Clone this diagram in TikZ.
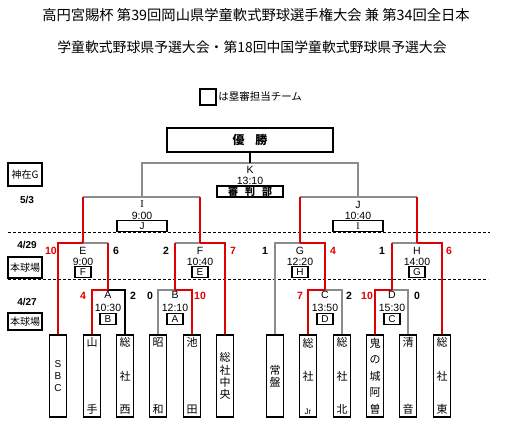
\documentclass[tikz,border=0pt]{standalone}
\usepackage{fontspec}
\setmainfont{Liberation Sans}
\newfontfamily\jp{Noto Sans CJK JP}
\newfontfamily\serifI{Liberation Serif}
\usetikzlibrary{positioning}
\definecolor{winred}{RGB}{225,0,0}
\definecolor{linegray}{RGB}{140,140,140}
\tikzset{
    winner/.style = {draw=winred, line width=1.8pt, line join=miter},
    loser/.style = {draw=linegray, line width=1.5pt, line join=miter},
    team/.style = {rectangle, draw=black, line width=1.4pt, minimum width=17pt, minimum height=82pt, inner sep=0pt, align=center},
    tname/.style = {font=\jp\fontsize{11}{#1}\selectfont},
    umpire/.style = {rectangle, draw=black, line width=1.1pt, minimum width=16pt, minimum height=11pt, inner sep=0pt, font=\fontsize{10}{10}\selectfont},
    venue/.style = {rectangle, draw=black, line width=1.1pt, minimum width=34pt, inner sep=0pt, font=\jp\fontsize{10}{10}\selectfont},
    mlabel/.style = {inner sep=0pt, font=\fontsize{10.5}{10.5}\selectfont},
    score/.style = {inner sep=0pt, font=\bfseries\fontsize{10.5}{10.5}\selectfont},
    rscore/.style = {score, text=winred},
    day/.style = {inner sep=0pt, font=\bfseries\fontsize{10}{10}\selectfont},
    dayline/.style = {black, line width=0.8pt, dash pattern=on 3pt off 2pt},
    title/.style = {inner sep=0pt, font=\jp\fontsize{#1}{#1}\selectfont}
}
\begin{document}
\begin{tikzpicture}[x=1pt,y=-1pt]
\useasboundingbox (0,0) rectangle (508,429);

% title and legend
\node[title=14.3] (ttl1) at (256,15) {高円宮賜杯 第39回岡山県学童軟式野球選手権大会 兼 第34回全日本};
\node[title=13.85] (ttl2) at (252,47) {学童軟式野球県予選大会・第18回中国学童軟式野球県予選大会};
\node[umpire, minimum size=16pt] (lgbox) at (208,97) {};
\node[inner sep=0pt, font=\jp\fontsize{10.5}{10.5}\selectfont, right=1.5pt of lgbox] (lgtxt) {は塁審担当チーム};

% days and grounds
\node[venue, minimum height=23pt] (vK) at (25,174.5) {神在G};
\node[day] (dK) at (27,200) {5/3};
\node[day] (dS) at (27,245) {4/29};
\node[venue, minimum height=21pt] (vS) at (25,267.5) {本球場};
\node[day] (dF) at (27,302) {4/27};
\node[venue, minimum height=17pt] (vF) at (25,321.5) {本球場};
\coordinate (r1a) at (8,232);
\coordinate (r1b) at (490,232);
\coordinate (r2a) at (8,279);
\coordinate (r2b) at (488,279);
\draw[dayline] (r1a) -- (r1b);
\draw[dayline] (r2a) -- (r2b);

% teams
\node[team, font=\fontsize{10}{12}\selectfont] (t1) at (58,376) {S\\B\\C};
\node[team, tname=67] (t2) at (92,376) {山\\手};
\node[team, tname=33.5] (t3) at (125,376) {総\\社\\西};
\node[team, tname=67] (t4) at (158,376) {昭\\和};
\node[team, tname=67] (t5) at (192,376) {池\\田};
\node[team, tname=12.3] (t6) at (225,376) {総\\社\\中\\央};
\node[team, tname=12] (t7) at (275,376) {常\\盤};
\node[team, tname=33.5] (t8) at (308,376) {総\\社\\{\rmfamily\fontsize{8}{33.5}\selectfont Jr}};
\node[team, tname=33.5] (t9) at (342,376) {総\\社\\北};
\node[team, tname=16.5] (t10) at (375,376) {鬼\\の\\城\\阿\\曽};
\node[team, tname=67] (t11) at (408,376) {清\\音};
\node[team, tname=33.5] (t12) at (442,376) {総\\社\\東};

% match points
\coordinate (mA) at (108,290);
\coordinate (mB) at (175,290);
\coordinate (mC) at (325,290);
\coordinate (mD) at (392,290);
\coordinate (mE) at (83,243);
\coordinate (mF) at (200,243);
\coordinate (mG) at (300,243);
\coordinate (mH) at (417,243);
\coordinate (mI) at (142,197);
\coordinate (mJ) at (358,197);
\coordinate (mK) at (250,163);
\node[rectangle, draw=black, line width=1.1pt, minimum width=166pt, minimum height=24pt, font=\jp\bfseries\fontsize{12}{12}\selectfont] (win) at (250,140) {優\hspace{11pt}勝};

% first round
\draw[loser, draw=black] (t3.north) |- (mA);
\draw[winner] (t2.north) |- (mA);
\draw[loser] (t4.north) |- (mB);
\draw[winner] (t5.north) |- (mB);
\draw[loser] (t9.north) |- (mC);
\draw[winner] (t8.north) |- (mC);
\draw[loser] (t11.north) |- (mD);
\draw[winner] (t10.north) |- (mD);

% second round
\draw[loser] (mA |- mE) -- (mE);
\draw[winner] (mA) -- (mA |- mE);
\draw[winner] (t1.north) |- (mE);
\draw[loser] (mB |- mF) -- (mF);
\draw[winner] (mB) -- (mB |- mF);
\draw[winner] (t6.north) |- (mF);
\draw[loser] (t7.north) |- (mG);
\draw[winner] (mC) |- (mG);
\draw[loser] (mD |- mH) -- (mH);
\draw[winner] (mD) -- (mD |- mH);
\draw[winner] (t12.north) |- (mH);

% semifinals and final
\draw[loser] (mE |- mI) -- (mF |- mI);
\draw[winner] (mE) -- (mE |- mI);
\draw[winner] (mF) -- (mF |- mI);
\draw[loser] (mG |- mJ) -- (mH |- mJ);
\draw[winner] (mG) -- (mG |- mJ);
\draw[winner] (mH) -- (mH |- mJ);
\draw[loser] (mI) |- (mK) -| (mJ);
\draw[black, line width=1.2pt] (win.south) -- (mK);

% match labels
\node[mlabel] (lA) at (108,294.5) {A};
\node[mlabel] (hA) at (108,307.5) {10:30};
\node[umpire] (uA) at (108,319) {B};
\node[mlabel] (lB) at (175,294.5) {B};
\node[mlabel] (hB) at (175,307.5) {12:10};
\node[umpire] (uB) at (175,319) {A};
\node[mlabel] (lC) at (325,294.5) {C};
\node[mlabel] (hC) at (325,307.5) {13:50};
\node[umpire] (uC) at (325,319) {D};
\node[mlabel] (lD) at (392,294.5) {D};
\node[mlabel] (hD) at (392,307.5) {15:30};
\node[umpire] (uD) at (392,319) {C};
\node[mlabel] (lE) at (83,250.5) {E};
\node[mlabel] (hE) at (83,261.5) {9:00};
\node[umpire] (uE) at (83,272) {F};
\node[mlabel] (lF) at (200,250.5) {F};
\node[mlabel] (hF) at (200,261.5) {10:40};
\node[umpire] (uF) at (200,272) {E};
\node[mlabel] (lG) at (300,250.5) {G};
\node[mlabel] (hG) at (300,261.5) {12:20};
\node[umpire] (uG) at (300,272) {H};
\node[mlabel] (lH) at (417,250.5) {H};
\node[mlabel] (hH) at (417,261.5) {14:00};
\node[umpire] (uH) at (417,272) {G};
\node[mlabel, font=\serifI\fontsize{10.5}{10.5}\selectfont] (lI) at (142,204.5) {I};
\node[mlabel] (hI) at (142,215.5) {9:00};
\node[umpire, minimum width=50pt] (uI) at (142,226) {J};
\node[mlabel] (lJ) at (358,204.5) {J};
\node[mlabel] (hJ) at (358,215.5) {10:40};
\node[umpire, minimum width=50pt, font=\serifI\fontsize{10}{10}\selectfont] (uJ) at (358,226) {I};
\node[mlabel] (lK) at (250,169.5) {K};
\node[mlabel] (hK) at (250,181) {13:10};
\node[umpire, minimum width=66pt, font=\jp\bfseries\fontsize{10}{10}\selectfont] (uK) at (250,191.5) {審\hspace{7pt}判\hspace{7pt}部};

% scores
\node[rscore] (sE1) at (51,251) {10};
\node[score] (sE2) at (116,251) {6};
\node[score] (sF1) at (166,251) {2};
\node[rscore] (sF2) at (233,251) {7};
\node[score] (sG1) at (265,251) {1};
\node[rscore] (sG2) at (333,251) {4};
\node[score] (sH1) at (382,251) {1};
\node[rscore] (sH2) at (449,251) {6};
\node[rscore] (sA1) at (83,296) {4};
\node[score] (sA2) at (133,296) {2};
\node[score] (sB1) at (150,296) {0};
\node[rscore] (sB2) at (200,296) {10};
\node[rscore] (sC1) at (300,296) {7};
\node[score] (sC2) at (349,296) {2};
\node[rscore] (sD1) at (367,296) {10};
\node[score] (sD2) at (417,296) {0};
\end{tikzpicture}
\end{document}
